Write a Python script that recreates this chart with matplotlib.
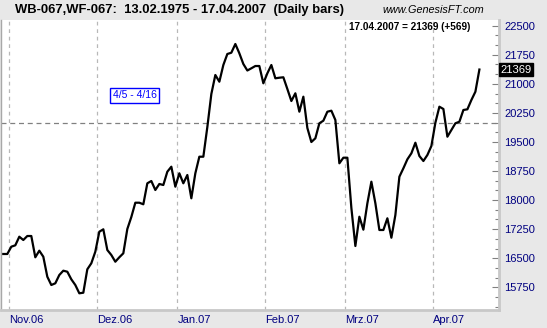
import matplotlib
matplotlib.use("Agg")
import matplotlib.pyplot as plt
import numpy as np
import pandas as pd
from matplotlib.ticker import MultipleLocator

# ---------------- data ----------------
holidays = ["2006-12-25", "2007-01-01"]
dates = pd.bdate_range("2006-10-30", "2007-04-17")
dates = dates[~dates.isin(pd.to_datetime(holidays))]

closes = [
    16610, 16610, 16798, 16834, 17056, 16971, 17074, 17074, 16525, 16695,
    16540, 16024, 15810, 15854, 16068, 16179, 16153, 15957, 15810, 15596,
    15611, 16215, 16370, 16669, 17185, 17247, 16713, 16584, 16411, 16525,
    16628, 17255, 17564, 17933, 17933, 17892, 18434, 18493, 18261, 18416,
    18390, 18733, 18862, 18346, 18692, 18434, 18648, 18047, 18692, 19120,
    19120, 19886, 20738, 21228, 21055, 21486, 21770, 21803, 22028, 21788,
    21512, 21344, 21401, 21460, 21460, 21014, 21272, 21486, 21143, 21158,
    21169, 20867, 20557, 20756, 20281, 20668, 19861, 19499, 19595, 19982,
    20049, 20281, 20307, 20067, 18950, 19094, 19094, 17797, 16816, 17572,
    17237, 17918, 18475, 17918, 17229, 17229, 17531, 17030, 17616, 18604,
    18821, 19053, 19208, 19481, 19138, 19009, 19164, 19396, 19997, 20410,
    20351, 19636, 19809, 19982, 20023, 20325, 20343, 20583, 20797, 21369,
]
month_names = {11: "Nov", 12: "Dez", 1: "Jan", 2: "Feb", 3: "Mrz", 4: "Apr"}
yticks = [15750, 16500, 17250, 18000, 18750, 19500, 20250, 21000, 21750, 22500]
cursor_level = 19990
last_value = 21369
last_change = 569
title = "WB-067,WF-067:  13.02.1975 - 17.04.2007  (Daily bars)"
annotation = "4/5 - 4/16"

# ---------------- figure ----------------
W, H = 547, 328
fig = plt.figure(figsize=(W / 100, H / 100), dpi=100)
bg = "#e8e8e8"
fig.patch.set_facecolor(bg)
plt.rcParams["font.family"] = ["Liberation Sans", "DejaVu Sans"]

def fx(px):
    return px / W

def fy(py):
    return 1 - py / H

ax = fig.add_axes([fx(1), fy(310), fx(499) - fx(1), fy(20) - fy(310)])
ax.set_facecolor("white")

x = np.arange(len(closes))
ax.plot(x, closes, color="black", lw=1.6, solid_joinstyle="round", zorder=3)

ax.set_xlim(-0.575, 123.9)
ax.set_ylim(15165, 22647)

# month boundaries
months = pd.Series(dates.month)
starts = [i for i in range(1, len(dates)) if months[i] != months[i - 1]]
month_pos = [s - 0.5 for s in starts]
month_lbls = [f"{month_names[dates[s].month]}.{dates[s].strftime('%y')}" for s in starts]

for p in month_pos:
    ax.axvline(p, color="#b8b8b8", lw=0.9, ls=(0, (3, 3)), zorder=1)
ax.axhline(cursor_level, color="#808080", lw=0.9, ls=(0, (4, 3)), zorder=2)

ax.set_xticks(month_pos)
ax.set_xticklabels(month_lbls, ha="left", color="#000080", fontsize=8)
ax.tick_params(axis="x", length=0, pad=3.5)

ax.yaxis.tick_right()
ax.set_yticks(yticks)
ax.set_yticklabels([str(v) for v in yticks], color="#000080", fontsize=8)
ax.yaxis.set_minor_locator(MultipleLocator(250))
ax.tick_params(axis="y", which="major", direction="in", length=5, width=0.8,
               color="#808080", pad=4)
ax.tick_params(axis="y", which="minor", direction="in", length=3, width=0.8,
               color="#808080")
ax.tick_params(axis="y", left=False, labelleft=False)

ax.spines["top"].set_visible(False)
ax.spines["left"].set_color("#a8a8a8")
ax.spines["left"].set_linewidth(1.0)
ax.spines["bottom"].set_color("#c8c8c8")
ax.spines["bottom"].set_linewidth(2.0)
ax.spines["right"].set_color("#c8c8c8")
ax.spines["right"].set_linewidth(2.0)

# texts
fig.text(fx(15), fy(10.5), title, fontsize=9.4, fontweight="bold", va="center", ha="left")
fig.text(fx(382), fy(10), "www.GenesisFT.com", fontsize=7.8, style="italic",
         va="center", ha="left")
fig.text(fx(349), fy(27), f"17.04.2007 = {last_value} (+{last_change})",
         fontsize=7.2, fontweight="bold", va="center", ha="left")

# last value tag on axis
ax.annotate(str(last_value), xy=(1.0, last_value), xycoords=("axes fraction", "data"),
            xytext=(1, 0), textcoords="offset points", color="white", fontsize=8,
            va="center", ha="left",
            bbox=dict(boxstyle="square,pad=0.1", fc="black", ec="black"),
            annotation_clip=False, zorder=5)

# blue annotation box
fig.text(fx(134.5), fy(95.5), annotation, color="#0000ff", fontsize=7.5,
         va="center", ha="center",
         bbox=dict(boxstyle="square,pad=0.25", fc="white", ec="#0000ff", lw=1.0))

fig.savefig("out.png", dpi=100, facecolor=bg)
